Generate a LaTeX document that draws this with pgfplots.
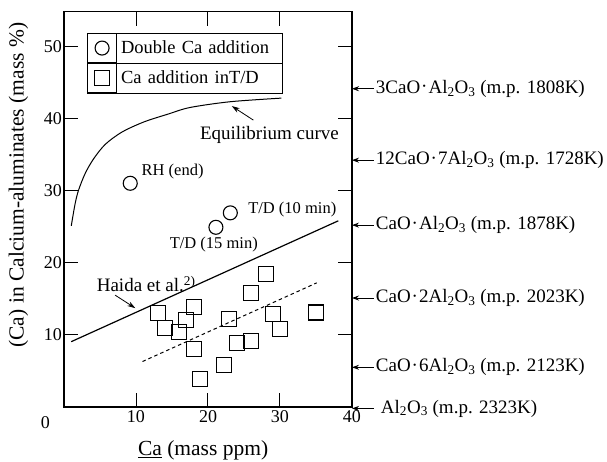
\documentclass[border=0pt]{standalone}
\usepackage{pgfplots}
\pgfplotsset{compat=1.18}
\usepackage{fontspec}
\setmainfont{Liberation Serif}
\usetikzlibrary{arrows.meta}
\newcommand{\cd}{\kern1pt\raisebox{0.5pt}{\textperiodcentered}\kern1pt}
\pgfplotsset{legimg/.style={legend image code/.code={\path (0pt,-14.5pt) rectangle (29pt,14.5pt);
    \draw[##1, mark repeat=1] plot coordinates {(14.5pt,0pt)};}}}
\begin{document}
\begin{tikzpicture}
\path[use as bounding box] (0,0) rectangle (607pt,461pt);
\begin{axis}[
  at={(64pt,54pt)}, anchor=south west,
  scale only axis, width=288pt, height=395.5pt,
  xmin=0, xmax=40, ymin=0, ymax=54.8,
  clip=false,
  axis line style={line width=1.6pt},
  xtick={10,20,30,40}, ytick={10,20,30,40,50},
  tick align=inside, major tick length=14pt,
  tick style={line width=1pt, black},
  ticklabel style={font=\fontsize{18}{20}\selectfont},
  xticklabel style={inner ysep=3pt},
  yticklabel style={inner xsep=2pt},
  /pgf/number format/assume math mode=true,
  xlabel={\underline{Ca} (mass ppm)},
  ylabel={(Ca) in Calcium-aluminates (mass \%)},
  label style={font=\fontsize{21.5}{24}\selectfont},
  xlabel style={at={(axis description cs:0.483,-0.109)}, anchor=center},
  ylabel style={at={(axis description cs:-0.158,0.561)}, anchor=center},
  legend style={at={(axis description cs:0.080,0.9456)}, anchor=north west,
    draw=black, line width=1pt, inner sep=0pt, outer sep=0pt,
    row sep=0pt, column sep=0pt, name=leg,
    font=\fontsize{18.5}{22}\selectfont,
    nodes={minimum height=29pt, text width=157pt, inner xsep=4pt, inner ysep=0pt, align=left}},
  legend cell align=left,
]
\addplot[only marks, mark=o, mark size=7pt, line width=1.1pt, legimg]
  coordinates {(9.2,31.0) (23.1,26.9) (21.1,24.9)};
\addlegendentry{Double Ca addition}
\addplot[only marks, mark=square, mark size=7.5pt, line width=1.1pt, legimg]
  coordinates {(13,13) (14,10.9) (16,10.4) (17,12.05) (18,13.9) (18,8.0)
    (18.9,3.9) (22.2,5.8) (22.9,12.2) (24,8.9) (26,9.2) (26,15.8)
    (28,18.4) (29,12.9) (30,10.8) (35,13.1)};
\addlegendentry{Ca addition inT/D}
% equilibrium curve
\addplot[smooth, tension=0.5, line width=1pt] coordinates {(1.01,25.1) (1.55,28.2) (2.04,30.1)
  (2.96,32.4) (4.12,34.4) (5.74,36.4) (8.06,38.1) (11.1,39.5) (14.5,40.6)
  (17.5,41.5) (23.1,42.3) (30.2,42.8)};
% Haida line
\addplot[line width=1.2pt] coordinates {(1,9.05) (38.1,25.8)};
% dashed regression
\addplot[dash pattern=on 3.5pt off 3pt, line width=1pt] coordinates {(10.9,6.3) (35.1,17.2)};

% annotations
\node[anchor=west, font=\fontsize{19}{22}\selectfont] at (axis cs:18.4,37.7) {Equilibrium curve};
\draw[-{Stealth[length=8pt,width=5pt]}, line width=0.8pt] (axis cs:26.3,39.75) -- (axis cs:23.3,41.7);
\node[anchor=west, font=\fontsize{16.5}{19}\selectfont] at (axis cs:10.3,32.6) {RH (end)};
\node[anchor=west, font=\fontsize{16.5}{19}\selectfont] at (axis cs:25.1,27.3) {T/D (10 min)};
\node[anchor=west, font=\fontsize{16.5}{19}\selectfont] at (axis cs:14.2,22.5) {T/D (15 min)};
\node[anchor=west, font=\fontsize{19}{22}\selectfont] at (axis cs:4.07,17.0) {Haida et al.\textsuperscript{2)}};
\draw[-{Stealth[length=8pt,width=5pt]}, line width=0.8pt] (axis cs:7.1,15.5) -- (axis cs:9.9,13.7);
\node[font=\fontsize{18}{20}\selectfont] at (axis cs:-2.6,-2.2) {0};

% right side compounds
\begin{scope}[font=\fontsize{19}{22}\selectfont]
\draw[{Stealth[length=7pt,width=5pt]}-, line width=0.8pt] (axis cs:40,44.1) -- ++(22pt,0)
  node[anchor=west, inner sep=1.5pt] {3CaO\cd Al\textsubscript{2}O\textsubscript{3} (m.p. 1808K)};
\draw[{Stealth[length=7pt,width=5pt]}-, line width=0.8pt] (axis cs:40,34.2) -- ++(22pt,0)
  node[anchor=west, inner sep=1.5pt] {12CaO\cd 7Al\textsubscript{2}O\textsubscript{3} (m.p. 1728K)};
\draw[{Stealth[length=7pt,width=5pt]}-, line width=0.8pt] (axis cs:40,25.2) -- ++(22pt,0)
  node[anchor=west, inner sep=1.5pt] {CaO\cd Al\textsubscript{2}O\textsubscript{3} (m.p. 1878K)};
\draw[{Stealth[length=7pt,width=5pt]}-, line width=0.8pt] (axis cs:40,15.1) -- ++(22pt,0)
  node[anchor=west, inner sep=1.5pt] {CaO\cd 2Al\textsubscript{2}O\textsubscript{3} (m.p. 2023K)};
\draw[{Stealth[length=7pt,width=5pt]}-, line width=0.8pt] (axis cs:40,5.5) -- ++(22pt,0)
  node[anchor=west, inner sep=1.5pt] {CaO\cd 6Al\textsubscript{2}O\textsubscript{3} (m.p. 2123K)};
\draw[{Stealth[length=7pt,width=5pt]}-, line width=0.8pt] (axis cs:40,-0.2) -- ++(22pt,0)
  node[anchor=west, inner sep=1.5pt, xshift=5pt] {Al\textsubscript{2}O\textsubscript{3} (m.p. 2323K)};
\end{scope}
\end{axis}
\draw[line width=1pt] (leg.west) -- (leg.east);
\draw[line width=1pt] ([xshift=29pt]leg.north west) -- ([xshift=29pt]leg.south west);
\end{tikzpicture}
\end{document}
